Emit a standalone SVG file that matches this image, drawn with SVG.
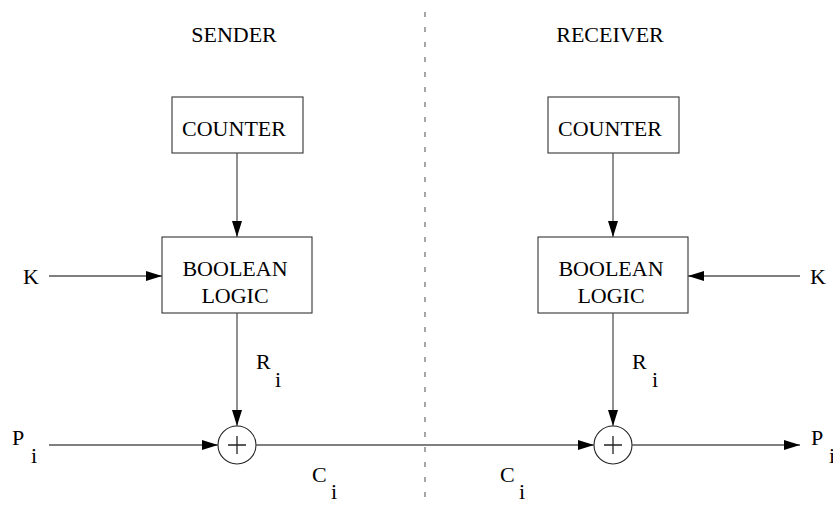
<svg xmlns="http://www.w3.org/2000/svg" width="833" height="506" viewBox="0 0 833 506">
  <style>
    .box { fill: #ffffff; stroke: #333333; stroke-width: 1.1; }
    .wire { fill: none; stroke: #555555; stroke-width: 1.3; }
    .xor { fill: #ffffff; stroke: #222222; stroke-width: 1.1; }
    .plus { fill: none; stroke: #222222; stroke-width: 1.3; }
    .divider { fill: none; stroke: #777777; stroke-width: 1.3; stroke-dasharray: 5 10; }
    text { font-family: "Liberation Serif", "Times New Roman", serif; font-size: 22px; fill: #000000; }
    .mid { text-anchor: middle; }
  </style>
  <defs>
    <marker id="arrow" viewBox="0 0 16 10" refX="16" refY="5" markerWidth="16" markerHeight="10" markerUnits="userSpaceOnUse" orient="auto">
      <path d="M0,0 L16,5 L0,10 Z" fill="#000000"/>
    </marker>
  </defs>

  <rect width="833" height="506" fill="#ffffff"/>

  <!-- sender / receiver split -->
  <line class="divider" x1="425" y1="12" x2="425" y2="502"/>
  <text class="mid" x="234" y="42">SENDER</text>
  <text class="mid" x="610" y="42">RECEIVER</text>

  <!-- sender side -->
  <g id="sender-counter">
    <rect class="box" x="172" y="97" width="131" height="56"/>
    <text class="mid" x="234" y="136">COUNTER</text>
  </g>
  <g id="sender-logic">
    <rect class="box" x="162" y="237" width="150" height="76"/>
    <text class="mid" x="235" y="276">BOOLEAN</text>
    <text class="mid" x="235" y="303">LOGIC</text>
  </g>
  <g id="sender-xor">
    <circle class="xor" cx="237" cy="445" r="19"/>
    <path class="plus" d="M237,436 V454 M228,445 H246"/>
  </g>

  <!-- receiver side -->
  <g id="receiver-counter">
    <rect class="box" x="548" y="97" width="131" height="56"/>
    <text class="mid" x="610" y="136">COUNTER</text>
  </g>
  <g id="receiver-logic">
    <rect class="box" x="538" y="237" width="150" height="76"/>
    <text class="mid" x="611" y="276">BOOLEAN</text>
    <text class="mid" x="611" y="303">LOGIC</text>
  </g>
  <g id="receiver-xor">
    <circle class="xor" cx="613" cy="445" r="19"/>
    <path class="plus" d="M613,436 V454 M604,445 H622"/>
  </g>

  <!-- signal labels -->
  <g id="labels">
    <text x="23" y="284">K</text>
    <text x="810" y="284">K</text>
    <text x="12" y="445">P</text><text x="31" y="463">i</text>
    <text x="256" y="369">R</text><text x="275" y="387">i</text>
    <text x="632" y="369">R</text><text x="652" y="387">i</text>
    <text x="312" y="482">C</text><text x="331" y="499">i</text>
    <text x="500" y="482">C</text><text x="519" y="499">i</text>
    <text x="811" y="445">P</text><text x="829" y="463">i</text>
  </g>

  <!-- connectors -->
  <g id="connectors">
    <line class="wire" x1="237" y1="153" x2="237" y2="237" marker-end="url(#arrow)"/>
    <line class="wire" x1="49" y1="276" x2="162" y2="276" marker-end="url(#arrow)"/>
    <line class="wire" x1="237" y1="313" x2="237" y2="426" marker-end="url(#arrow)"/>
    <line class="wire" x1="49" y1="445" x2="218" y2="445" marker-end="url(#arrow)"/>
    <line class="wire" x1="256" y1="445" x2="594" y2="445" marker-end="url(#arrow)"/>
    <line class="wire" x1="613" y1="153" x2="613" y2="237" marker-end="url(#arrow)"/>
    <line class="wire" x1="800" y1="276" x2="688" y2="276" marker-end="url(#arrow)"/>
    <line class="wire" x1="613" y1="313" x2="613" y2="426" marker-end="url(#arrow)"/>
    <line class="wire" x1="632" y1="445" x2="800" y2="445" marker-end="url(#arrow)"/>
  </g>
</svg>
